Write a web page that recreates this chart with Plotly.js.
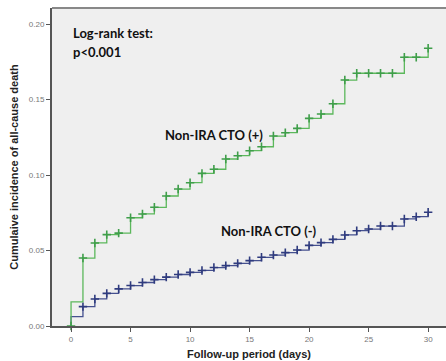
<!DOCTYPE html>
<html>
<head>
<meta charset="utf-8">
<script src="https://cdn.plot.ly/plotly-3.0.1.min.js"></script>
<style>html,body{margin:0;padding:0;background:#fff;}#chart{width:446px;height:361px;}</style>
</head>
<body>
<div id="chart"></div>
<script>
// Follow-up days (event / censor times)
const days = [0,1,2,3,4,5,6,7,8,9,10,11,12,13,14,15,16,17,18,19,20,21,22,23,24,25,26,27,28,29,30];
// Cumulative incidence, Non-IRA CTO (+)
const ctoPos = [0.016,0.045,0.055,0.0605,0.0615,0.0717,0.0742,0.0786,0.0861,0.0907,0.0949,0.1011,0.1038,0.1106,0.1128,0.1161,0.1187,0.1258,0.128,0.1309,0.1375,0.1404,0.1472,0.1629,0.1674,0.1674,0.1674,0.1674,0.178,0.178,0.1839];
// Cumulative incidence, Non-IRA CTO (-)
const ctoNeg = [0.0062,0.0128,0.0179,0.0216,0.0246,0.0268,0.0288,0.0307,0.0324,0.0341,0.0355,0.0368,0.0387,0.04,0.0415,0.0433,0.0455,0.047,0.0486,0.0503,0.0534,0.0552,0.0574,0.0603,0.0631,0.0642,0.0662,0.0662,0.0709,0.0724,0.0753];
const xTicks = [0,5,10,15,20,25,30];
const yTicks = [0,0.05,0.10,0.15,0.20];

const green = '#5cb85c', greenDark = '#3f9e4a';
const blue = '#45508f', blueDark = '#2f3b7e';

function stepTrace(vals, color) {
  return {x: [0].concat(days), y: [0].concat(vals), mode: 'lines', line: {shape: 'hv', color: color, width: 1.3},
          hoverinfo: 'skip', showlegend: false, cliponaxis: false};
}
function markTrace(vals, color, withZero) {
  const xs = days.slice(1), ys = vals.slice(1);
  if (withZero) { xs.unshift(0); ys.unshift(0); }
  return {x: xs, y: ys, mode: 'markers', marker: {symbol: 'cross-thin-open', size: 6, color: color, line: {color: color, width: 1.6}},
          hoverinfo: 'skip', showlegend: false, cliponaxis: false};
}

const data = [
  stepTrace(ctoNeg, blue), markTrace(ctoNeg, blueDark, false),
  stepTrace(ctoPos, green), markTrace(ctoPos, greenDark, true)
];

const annFont = {family: 'Lato, "Open Sans", sans-serif', size: 13, color: '#111', weight: 'bold'};
const layout = {
  width: 446, height: 361,
  margin: {l: 52, r: 0, t: 8, b: 35},
  paper_bgcolor: '#ffffff', plot_bgcolor: '#efefef',
  xaxis: {range: [-1.6, 31.5], tickvals: xTicks, ticktext: xTicks.map(String), showgrid: false, zeroline: false,
          showline: true, linecolor: '#555', linewidth: 2, ticks: 'outside', ticklen: 4, tickcolor: '#555', tickwidth: 1,
          tickfont: {family: '"Liberation Sans", Arial, sans-serif', size: 8, color: '#777'},
          title: {text: '<b>Follow-up period (days)</b>', standoff: 8, font: {family: '"Liberation Sans", Arial, sans-serif', size: 11, color: '#222'}}},
  yaxis: {range: [0, 0.2106], tickvals: yTicks, ticktext: yTicks.map(v => v.toFixed(2)), showgrid: false, zeroline: false,
          showline: true, linecolor: '#555', linewidth: 2, ticks: 'outside', ticklen: 4, tickcolor: '#555', tickwidth: 1,
          tickfont: {family: '"Liberation Sans", Arial, sans-serif', size: 8, color: '#777'},
          title: {text: '<b>Cumulaive incidence of all-cause death</b>', standoff: 8, font: {family: '"Liberation Sans", Arial, sans-serif', size: 11, color: '#222'}}},
  shapes: [{type: 'line', xref: 'paper', yref: 'paper', x0: 0, x1: 1, y0: 1, y1: 1, line: {color: '#888', width: 2}}],
  annotations: [
    {x: 0, y: 0.194, xref: 'x', yref: 'y', xanchor: 'left', yanchor: 'middle', text: '<b>Log-rank test:</b>', showarrow: false, font: annFont},
    {x: 0, y: 0.1815, xref: 'x', yref: 'y', xanchor: 'left', yanchor: 'middle', text: '<b>p<0.001</b>', showarrow: false, font: annFont},
    {x: 12, y: 0.1265, xref: 'x', yref: 'y', xanchor: 'center', yanchor: 'middle', text: '<b>Non-IRA CTO (+)</b>', showarrow: false, font: annFont},
    {x: 16.65, y: 0.0629, xref: 'x', yref: 'y', xanchor: 'center', yanchor: 'middle', text: '<b>Non-IRA CTO (-)</b>', showarrow: false, font: annFont}
  ]
};
Plotly.newPlot('chart', data, layout, {displayModeBar: false, staticPlot: true});
</script>
</body>
</html>
